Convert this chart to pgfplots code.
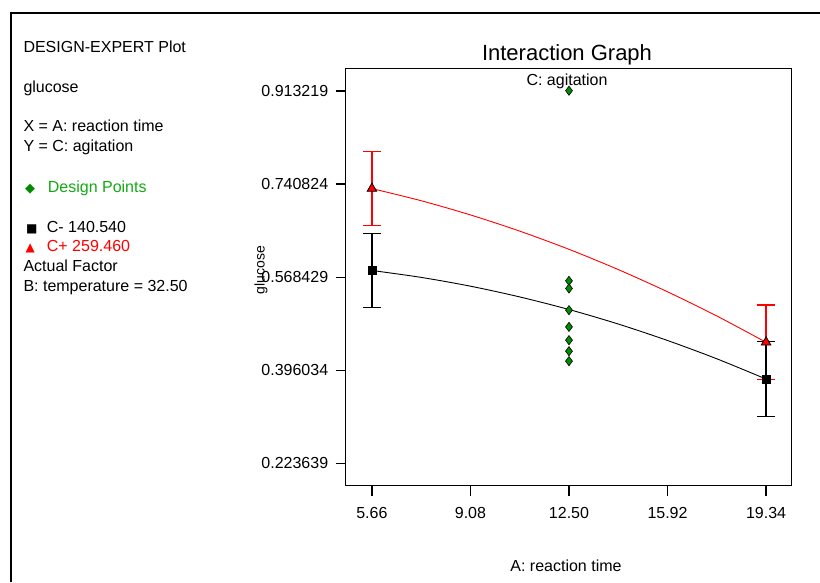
\documentclass[border=0pt]{standalone}
\usepackage{pgfplots}
\pgfplotsset{compat=1.18}
\usepackage{fontspec}
\setmainfont{Liberation Sans}
\newfontfamily\symfont{DejaVu Sans}
\definecolor{dgreen}{RGB}{0,140,0}
\definecolor{tgreen}{RGB}{20,170,20}
\begin{document}
\begin{tikzpicture}[x=1pt,y=1pt]
\useasboundingbox (0,0) rectangle (820,-582);
\fill[white] (0,0) rectangle (820,-582);
\draw[line width=2pt] (11,-582) -- (11,-13) -- (820,-13);
\def\lf{\fontsize{16}{19}\selectfont}
\node[anchor=base west,inner sep=0] at (23.3,-52) {\lf DESIGN-EXPERT Plot};
\node[anchor=base west,inner sep=0] at (23.3,-92) {\lf glucose};
\node[anchor=base west,inner sep=0] at (23.3,-131.7) {\lf X = A: reaction time};
\node[anchor=base west,inner sep=0] at (23.3,-151.7) {\lf Y = C: agitation};
\node[anchor=base west,inner sep=0] at (25,-192) {{\symfont\fontsize{13}{15}\selectfont\textcolor{dgreen}{◆}}};
\node[anchor=base west,inner sep=0,text=tgreen] at (47.7,-192) {\lf Design Points};
\node[anchor=base west,inner sep=0] at (26,-232.3) {{\symfont\fontsize{12}{14}\selectfont ■}};
\node[anchor=base west,inner sep=0] at (46.7,-232.3) {\lf C- 140.540};
\node[anchor=base west,inner sep=0] at (25.5,-251.7) {{\symfont\fontsize{12}{14}\selectfont\textcolor{red}{▲}}};
\node[anchor=base west,inner sep=0,text=red] at (46.7,-251.7) {\lf C+ 259.460};
\node[anchor=base west,inner sep=0] at (23.3,-271.7) {\lf Actual Factor};
\node[anchor=base west,inner sep=0] at (23.3,-291.7) {\lf B: temperature = 32.50};
% titles
\node[anchor=base,inner sep=0] at (567,-60) {\fontsize{22}{26}\selectfont Interaction Graph};
\node[anchor=base,inner sep=0] at (567,-85) {\lf C: agitation};
\node[anchor=base,inner sep=0] at (566,-571.7) {\lf A: reaction time};
\node[rotate=90,inner sep=0] at (261,-270) {\fontsize{14}{17}\selectfont glucose};
\begin{axis}[
  at={(345.7pt,-68.3pt)}, anchor=north west,
  scale only axis, width=446pt, height=417.4pt,
  xmin=4.75, xmax=20.23, ymin=0.1821, ymax=0.9553,
  xtick={5.66,9.08,12.50,15.92,19.34},
  xticklabels={5.66,9.08,12.50,15.92,19.34},
  ytick={0.223639,0.396034,0.568429,0.740824,0.913219},
  yticklabels={0.223639,0.396034,0.568429,0.740824,0.913219},
  tick pos=left, tick align=outside, major tick length=10pt,
  axis line style={line width=1.3pt},
  tick style={line width=1.3pt, black},
  ticklabel style={font=\fontsize{16}{19}\selectfont},
  xticklabel style={yshift=-8pt},
  yticklabel style={xshift=-4pt},
  clip=false,
]
% model curves
\addplot[red, line width=0.9pt, smooth, mark=none] coordinates {
 (5.66,0.7325) (7.37,0.710) (9.08,0.6837) (10.79,0.6537) (12.50,0.620)
 (14.21,0.5825) (15.92,0.5413) (17.63,0.4965) (19.34,0.4478)};
\addplot[black, line width=0.9pt, smooth, mark=none] coordinates {
 (5.66,0.5808) (7.37,0.568) (9.08,0.5517) (10.79,0.5318) (12.50,0.5085)
 (14.21,0.4816) (15.92,0.4511) (17.63,0.4172) (19.34,0.3797)};
% error bars and end markers
\addplot[draw=red, only marks, mark=triangle*,
  mark options={fill=red, draw=black, mark size=5.5pt, line width=0.8pt, solid},
  error bars/.cd, y dir=both, y explicit,
  error bar style={draw=red, line width=1.2pt, solid},
  error mark options={rotate=90, mark size=8.8pt, draw=red, line width=1.2pt, solid}]
  coordinates {(5.66,0.7325) +- (0,0.069) (19.34,0.4478) +- (0,0.069)};
\addplot[draw=black, only marks, mark=square*,
  mark options={fill=black, draw=black, mark size=4.2pt, solid},
  error bars/.cd, y dir=both, y explicit,
  error bar style={draw=black, line width=1.2pt, solid},
  error mark options={rotate=90, mark size=8.8pt, draw=black, line width=1.2pt, solid}]
  coordinates {(5.66,0.5808) +- (0,0.069) (19.34,0.3797) +- (0,0.069)};
% design points
\addplot[only marks, mark=diamond*, mark size=4.6pt,
  mark options={fill=dgreen, draw=black, line width=0.6pt}] coordinates {
 (12.50,0.9138) (12.50,0.5616) (12.50,0.5475) (12.50,0.5073)
 (12.50,0.4763) (12.50,0.4517) (12.50,0.4313) (12.50,0.4128)};
\end{axis}
\end{tikzpicture}
\end{document}
